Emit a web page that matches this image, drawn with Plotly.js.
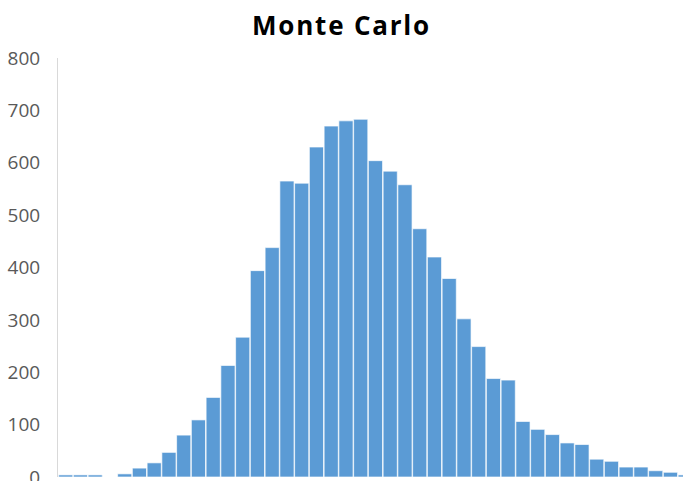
<!DOCTYPE html>
<html>
<head>
<meta charset="utf-8">
<script src="https://cdn.plot.ly/plotly-3.0.1.min.js"></script>
<style>html,body{margin:0;padding:0;background:#fff;overflow:hidden;width:683px;height:481px}#chart{width:683px;height:500px}.gtitle{letter-spacing:1.8px}</style>
</head>
<body>
<div id="chart"></div>
<script>
// Histogram bins (1..43) and counts
const bins = [1,2,3,4,5,6,7,8,9,10,11,12,13,14,15,16,17,18,19,20,21,22,23,24,25,26,27,28,29,30,31,32,33,34,35,36,37,38,39,40,41,42,43];
const counts = [4,4,4,0,6,17,27,47,80,109,152,213,267,394,438,565,561,630,670,680,683,604,584,558,474,420,379,302,249,188,185,106,91,81,65,62,34,30,19,19,12,9,4];
const yTicks = [0,100,200,300,400,500,600,700,800];
const titleText = 'Monte Carlo';

const trace = {
  type: 'bar',
  x: bins,
  y: counts,
  marker: {color: '#5b9bd5', line: {color: 'rgba(255,255,255,0.65)', width: 1}},
  hoverinfo: 'x+y'
};

const layout = {
  width: 683, height: 500,
  margin: {l: 58, r: 0, t: 57.5, b: 23, pad: 0},
  paper_bgcolor: '#ffffff', plot_bgcolor: '#ffffff',
  bargap: 0.04,
  showlegend: false,
  title: {
    text: titleText,
    font: {family: 'Open Sans, sans-serif', size: 26, color: '#000000', weight: 700},
    x: 0.5, xanchor: 'center', xref: 'container',
    y: 0.949, yanchor: 'middle', yref: 'container'
  },
  xaxis: {
    range: [0.478, 42.85],
    showticklabels: false, showgrid: false, zeroline: false, showline: false, ticks: ''
  },
  yaxis: {
    range: [0, 800],
    tickvals: yTicks,
    ticktext: yTicks.map(String),
    showgrid: false, zeroline: false,
    showline: true, linecolor: '#d9d9d9', linewidth: 1,
    ticks: '', ticklabelstandoff: 13,
    tickfont: {family: 'Open Sans, sans-serif', size: 19, color: '#595959'}
  }
};

Plotly.newPlot('chart', [trace], layout, {displayModeBar: false, staticPlot: true});
</script>
</body>
</html>
